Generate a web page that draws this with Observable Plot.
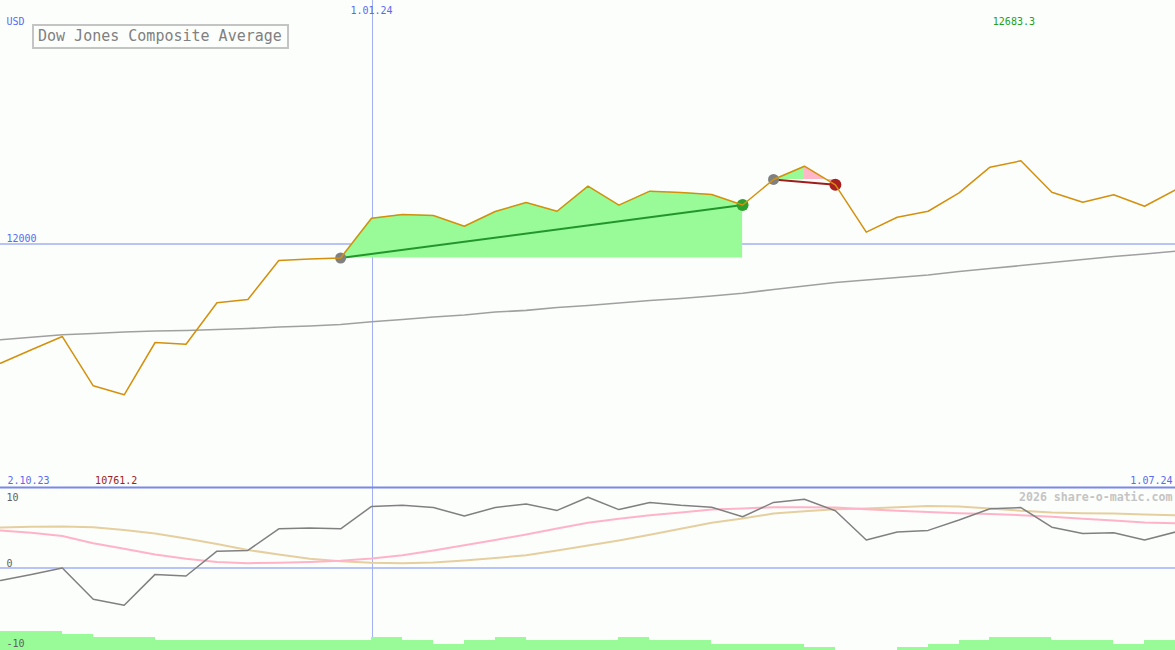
<!DOCTYPE html>
<html><head><meta charset="utf-8">
<script src="https://cdn.jsdelivr.net/npm/d3@7"></script>
<script src="https://cdn.jsdelivr.net/npm/@observablehq/plot@0.6"></script>
<style>
html,body{margin:0;padding:0;background:#fcfefc;}
#wrap{position:relative;width:1175px;height:650px;overflow:hidden;background:#fcfefc;}
#wrap svg{display:block;}
#title{position:absolute;left:32px;top:24px;width:257px;height:25px;box-sizing:border-box;border:2px solid #c4c4c4;
  font:15px "DejaVu Sans Mono",monospace;color:#808080;padding:0 0 0 4px;line-height:20px;white-space:nowrap;background:#fcfefc;}
</style></head>
<body><div id="wrap"><div id="title">Dow Jones Composite Average</div></div>
<script>
// ---- data ----
const dates = ["2023-10-09","2023-10-16","2023-10-23","2023-10-30","2023-11-06","2023-11-13","2023-11-20","2023-11-27",
  "2023-12-04","2023-12-11","2023-12-18","2023-12-25","2024-01-01","2024-01-08","2024-01-15","2024-01-22","2024-01-29",
  "2024-02-05","2024-02-12","2024-02-19","2024-02-26","2024-03-04","2024-03-11","2024-03-18","2024-03-25","2024-04-01",
  "2024-04-08","2024-04-15","2024-04-22","2024-04-29","2024-05-06","2024-05-13","2024-05-20","2024-05-27","2024-06-03",
  "2024-06-10","2024-06-17","2024-06-24","2024-07-01"];
const price = [11021,11131,11240,10835,10761.2,11191,11177,11517,11544,11864,11877,11885,12212,12242,12234,12146,12267,
  12341,12269,12475,12319,12434,12423,12407,12320,12530,12639,12486,12097,12220,12269,12420,12631,12683.3,12425,12343,
  12404,12310,12445];
const movingAvg = [11213,11234,11255,11265,11277,11285,11290,11298,11306,11318,11327,11339,11361,11380,11400,11417,11441,
  11455,11478,11495,11515,11536,11552,11573,11596,11626,11655,11684,11704,11725,11745,11774,11799,11823,11848,11873,
  11897,11918,11941];
const oscillator = [-1.56,-0.8,0.0,-3.9,-4.65,-0.8,-1.0,2.1,2.2,4.9,5.0,4.9,7.7,7.85,7.56,6.5,7.56,8.0,7.2,8.85,7.3,8.2,
  7.85,7.6,6.4,8.2,8.6,7.15,3.5,4.5,4.7,6.0,7.4,7.56,5.1,4.3,4.4,3.5,4.5];
const signalFast = [4.7,4.4,4.0,3.1,2.4,1.7,1.15,0.75,0.6,0.65,0.75,0.9,1.2,1.6,2.2,2.85,3.5,4.2,4.95,5.65,6.15,6.6,
  6.95,7.3,7.45,7.6,7.6,7.55,7.35,7.15,7.0,6.85,6.75,6.6,6.4,6.15,5.95,5.7,5.6];
const signalSlow = [5.06,5.15,5.2,5.1,4.75,4.3,3.7,3.0,2.25,1.7,1.15,0.85,0.65,0.6,0.7,0.95,1.25,1.6,2.2,2.8,3.45,4.15,
  4.9,5.65,6.2,6.8,7.1,7.35,7.45,7.6,7.75,7.7,7.45,7.15,6.95,6.85,6.8,6.7,6.6];
const volumeLevels = [6,6,5,4,4,3,3,3,3,3,3,3,4,3,2,3,4,3,3,3,4,3,3,2,2,2,1,0,0,1,2,3,4,4,3,3,2,3];
const trades = [{start:11,end:24,win:true},{start:25,end:27,win:false}];
const tradeFills = [{from:11,to:24,ref:11,color:"#98fb98"},{from:25,to:26,ref:25,color:"#98fb98"},{from:26,to:27,ref:25,color:"#ffb6c8"}];
const dateLabels = ["2.10.23","1.01.24","1.07.24"];
const markerDate = "2024-01-01";
const refLevel = 12000;
const currency = "USD";
const oscTickTop = 10, oscTickZero = 0, oscTickBottom = -10;

// ---- build ----
const rows = dates.map((d,i)=>({date:new Date(d), price:price[i], ma:movingAvg[i], osc:oscillator[i], fast:signalFast[i], slow:signalSlow[i]}));
const bars = volumeLevels.map((v,i)=>({x1:rows[i].date, x2:rows[i+1].date, v}));
const maxRow = rows.reduce((a,b)=>b.price>a.price?b:a);
const minRow = rows.reduce((a,b)=>b.price<a.price?b:a);
const marker = new Date(markerDate);
const xDomain = [rows[0].date, rows[rows.length-1].date];
const FONT = "DejaVu Sans Mono";
const BLUE = "#5a6aee", LINEBLUE = "#a3b0f4", SEP = "#7b88ea";

const main = Plot.plot({
  width:1175, height:487, margin:0,
  style:{background:"transparent", fontFamily:FONT, fontSize:"10px"},
  x:{type:"utc", domain:xDomain, axis:null},
  y:{domain:[10000,14000], axis:null},
  marks:[
    Plot.ruleY([refLevel], {stroke:LINEBLUE, strokeWidth:1.5}),
    Plot.ruleX([marker], {stroke:LINEBLUE, strokeWidth:1, dx:0.5, shapeRendering:"crispEdges"}),
    Plot.ruleY([10000], {stroke:SEP, strokeWidth:2}),
    Plot.line(rows, {x:"date", y:"ma", stroke:"#a0a0a0", strokeWidth:1.6}),
    ...tradeFills.map(f=>Plot.areaY(rows.slice(f.from, f.to+1), {x:"date", y1:()=>rows[f.ref].price, y2:"price", fill:f.color})),
    ...trades.map(t=>Plot.line([rows[t.start], rows[t.end]], {x:"date", y:"price", stroke:t.win?"#22962a":"#a01c1c", strokeWidth:2})),
    ...trades.map(t=>Plot.dot([rows[t.start]], {x:"date", y:"price", r:5.5, fill:"#808080"})),
    ...trades.map(t=>Plot.dot([rows[t.end]], {x:"date", y:"price", r:6, fill:t.win?"#2ca02c":"#a82020"})),
    Plot.line(rows, {x:"date", y:"price", stroke:"#d4900c", strokeWidth:1.5}),
    Plot.text([currency], {frameAnchor:"top-left", dx:6, dy:24, lineAnchor:"bottom", textAnchor:"start", fill:BLUE}),
    Plot.text([marker], {x:d=>d, frameAnchor:"top", dy:13, lineAnchor:"bottom", textAnchor:"middle", text:()=>dateLabels[1], fill:BLUE}),
    Plot.text([maxRow], {x:"date", frameAnchor:"top", dy:24, dx:-7, lineAnchor:"bottom", textAnchor:"middle", text:d=>d.price.toFixed(1), fill:"#22a022"}),
    Plot.text([minRow], {x:"date", frameAnchor:"bottom", dy:-4, dx:-8, lineAnchor:"bottom", textAnchor:"middle", text:d=>d.price.toFixed(1), fill:"#a02020"}),
    Plot.text([refLevel], {y:d=>d, frameAnchor:"left", dx:6, dy:-2, lineAnchor:"bottom", textAnchor:"start", text:d=>String(d), fill:BLUE}),
    Plot.text([dateLabels[0]], {frameAnchor:"bottom-left", dx:7, dy:-4, lineAnchor:"bottom", textAnchor:"start", fill:BLUE}),
    Plot.text([dateLabels[2]], {frameAnchor:"bottom-right", dx:-3, dy:-4, lineAnchor:"bottom", textAnchor:"end", fill:BLUE})
  ]
});

const LOW_BOTTOM = -10.3125, LOW_TOP = 10.0625;
const lower = Plot.plot({
  width:1175, height:163, margin:0,
  style:{background:"transparent", fontFamily:FONT, fontSize:"10px"},
  x:{type:"utc", domain:xDomain, axis:null},
  y:{domain:[LOW_BOTTOM, LOW_TOP], axis:null},
  marks:[
    Plot.ruleX([marker], {stroke:LINEBLUE, strokeWidth:1, dx:0.5, shapeRendering:"crispEdges"}),
    Plot.rect(bars, {x1:"x1", x2:"x2", y1:()=>LOW_BOTTOM, y2:d=>LOW_BOTTOM + d.v*0.4, fill:"#98fb98", shapeRendering:"crispEdges"}),
    Plot.ruleY([0], {stroke:LINEBLUE, strokeWidth:1.5}),
    Plot.ruleY([LOW_TOP], {stroke:SEP, strokeWidth:2}),
    Plot.line(rows, {x:"date", y:"slow", stroke:"#e6cf9f", strokeWidth:2}),
    Plot.line(rows, {x:"date", y:"fast", stroke:"#ffb3c8", strokeWidth:2}),
    Plot.line(rows, {x:"date", y:"osc", stroke:"#808080", strokeWidth:1.5}),
    Plot.text([oscTickTop], {frameAnchor:"top-left", dx:6, dy:13, lineAnchor:"bottom", textAnchor:"start", text:d=>String(d), fill:"#606060"}),
    Plot.text([oscTickZero], {frameAnchor:"top-left", dx:6, dy:79, lineAnchor:"bottom", textAnchor:"start", text:d=>String(d), fill:"#606060"}),
    Plot.text([oscTickBottom], {frameAnchor:"top-left", dx:6, dy:159, lineAnchor:"bottom", textAnchor:"start", text:d=>String(d), fill:"#606060"}),
    Plot.text(["2026 share-o-matic.com"], {frameAnchor:"top-right", dx:-3, dy:13, lineAnchor:"bottom", textAnchor:"end", fill:"#c4c4c4", fontWeight:"bold", fontSize:11.6})
  ]
});

const wrap = document.getElementById("wrap");
wrap.insertBefore(lower, wrap.firstChild);
wrap.insertBefore(main, wrap.firstChild);
</script>
</body></html>
